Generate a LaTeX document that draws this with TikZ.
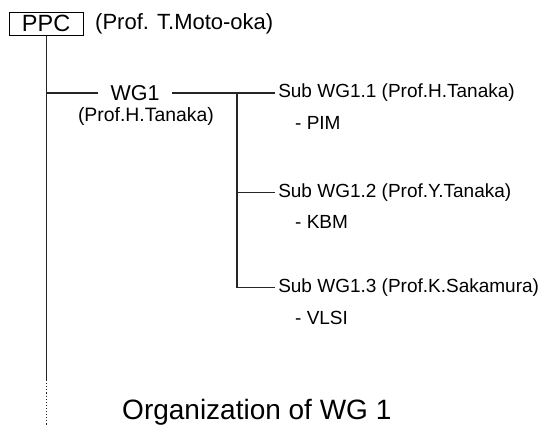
\documentclass[tikz,border=0pt]{standalone}
\usepackage{fontspec}
\setmainfont{Liberation Sans}
\begin{document}
\begin{tikzpicture}
        [box/.style={draw, line width=1pt, minimum width=2.6cm, minimum height=0.81cm, inner sep=0, font=\fontsize{23.5}{26}\selectfont},
        label/.style={inner sep=0, font=\fontsize{22}{24}\selectfont},
        group/.style={inner ysep=0, inner xsep=12pt, font=\fontsize{21.5}{24}\selectfont},
        sub/.style={anchor=west, inner ysep=0, inner xsep=3pt, font=\fontsize{19}{22}\selectfont},
        topic/.style={anchor=west, inner sep=0, font=\fontsize{19}{22}\selectfont},
        wire/.style={line width=1.1pt, black!85}]
        \useasboundingbox (0,0) rectangle (19.23,-14.94);
        \node[box] (PPC) at (1.62,-0.83) {PPC};
        \node[label, anchor=west] (chair) at (3.34,-0.83) {(Prof. T.Moto-oka)};
        \node[group] (WG) at (4.75,-3.27) {WG1};
        \node[label, font=\fontsize{19.4}{22}\selectfont] (WGchair) at (5.13,-4.11) {(Prof.H.Tanaka)};
        \node[sub] (S1) at (9.67,-3.27) {Sub WG1.1 (Prof.H.Tanaka)};
        \node[topic] (pim) at (10.37,-4.32) {- PIM};
        \node[sub] (S2) at (9.67,-6.78) {Sub WG1.2 (Prof.Y.Tanaka)};
        \node[topic] (kbm) at (10.37,-7.80) {- KBM};
        \node[sub] (S3) at (9.67,-10.12) {Sub WG1.3 (Prof.K.Sakamura)};
        \node[topic] (vlsi) at (10.37,-11.18) {- VLSI};
        \node[anchor=base west, inner sep=0, font=\fontsize{28}{30}\selectfont] (title) at (4.29,-14.73) {Organization of WG 1};
        
        \coordinate (T1) at (PPC.south |- WG.west);
        \coordinate (T2) at (1.65,-13.36);
        \coordinate (T3) at (1.65,-14.94);
        \coordinate (B1) at (8.33,-3.27);
        
        \draw[wire] (PPC.south) -- (PPC.south |- T2);
        \draw[wire, dotted] (PPC.south |- T2) -- (PPC.south |- T3);
        \draw[wire] (T1) -- (WG.west);
        \draw[wire] (WG.east) -- (S1.west);
        \draw[wire] (B1) -- (B1 |- S3.west) -- (S3.west);
        \draw[wire] (B1 |- S2.west) -- (S2.west);
    
    \end{tikzpicture}
\end{document}
